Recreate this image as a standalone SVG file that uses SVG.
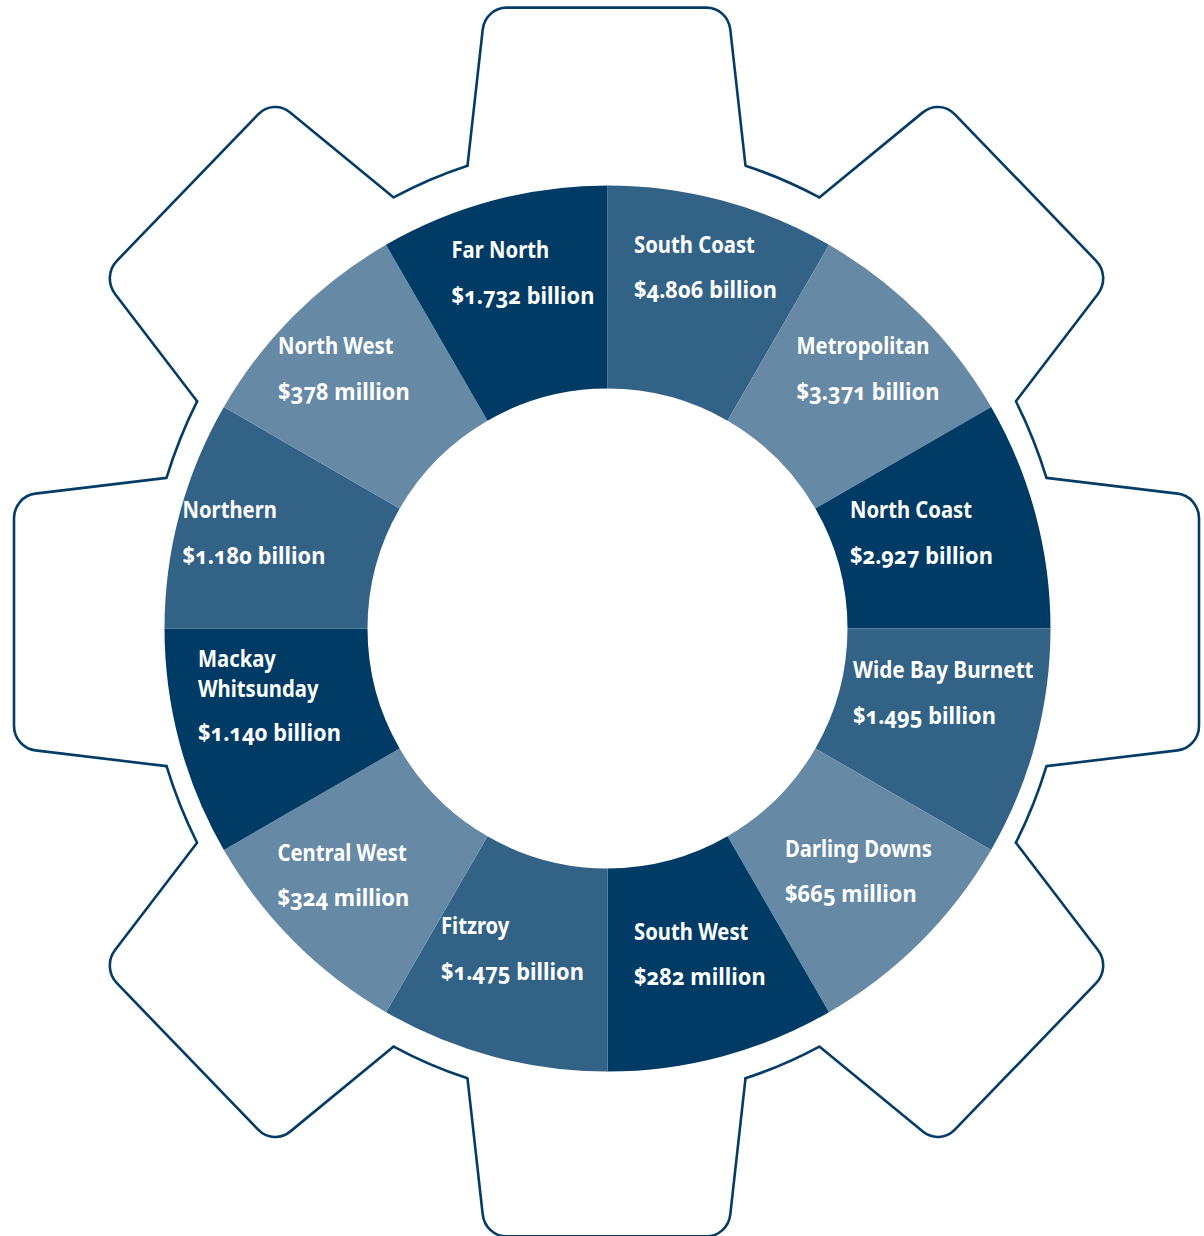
<svg xmlns="http://www.w3.org/2000/svg" xmlns:xlink="http://www.w3.org/1999/xlink" width="1204" height="1236" viewBox="0 0 1204 1236">
<style>
.dk{fill:#003b66}
.md{fill:#336287}
.lt{fill:#668aa6}
.gear{fill:none;stroke:#053c66;stroke-width:2.6;stroke-linejoin:round;stroke-linecap:round}
.t{fill:#ffffff;font-family:"Noto Sans","Open Sans","DejaVu Sans",sans-serif;font-weight:bold;font-size:23px;font-variant-numeric:oldstyle-nums;font-feature-settings:"onum" 1}
</style>
<defs>
<path id="tooth" class="gear" vector-effect="non-scaling-stroke" d="M440,-139 L571.2,-123.8 A24,24 0 0 1 592.5,-99.9 L592.5,99.9 A24,24 0 0 1 571.2,123.8 L440,139 A461.4,461.4 0 0 1 409.4,212.8"/>
</defs>
<rect width="1204" height="1236" fill="#ffffff"/>
<g id="gear" transform="translate(606.5 622) scale(1 1.037)">
<use href="#tooth" xlink:href="#tooth" transform="rotate(0)"/>
<use href="#tooth" xlink:href="#tooth" transform="rotate(45)"/>
<use href="#tooth" xlink:href="#tooth" transform="rotate(90)"/>
<use href="#tooth" xlink:href="#tooth" transform="rotate(135)"/>
<use href="#tooth" xlink:href="#tooth" transform="rotate(180)"/>
<use href="#tooth" xlink:href="#tooth" transform="rotate(225)"/>
<use href="#tooth" xlink:href="#tooth" transform="rotate(270)"/>
<use href="#tooth" xlink:href="#tooth" transform="rotate(315)"/>
</g>
<g id="south-coast"><path class="md" d="M607.5,185.5 A443,443 0 0 1 829,244.85 L727.5,420.65 A240,240 0 0 0 607.5,388.5 Z"/>
<text class="t" transform="translate(634 252.5) scale(.88 1)">South Coast</text><text class="t" transform="translate(634 298) scale(.95 1)">$4.806 billion</text></g>
<g id="metropolitan"><path class="lt" d="M829,244.85 A443,443 0 0 1 991.15,407 L815.35,508.5 A240,240 0 0 0 727.5,420.65 Z"/>
<text class="t" transform="translate(796.5 354) scale(.88 1)">Metropolitan</text><text class="t" transform="translate(796.5 399.5) scale(.95 1)">$3.371 billion</text></g>
<g id="north-coast"><path class="dk" d="M991.15,407 A443,443 0 0 1 1050.5,628.5 L847.5,628.5 A240,240 0 0 0 815.35,508.5 Z"/>
<text class="t" transform="translate(850 518) scale(.88 1)">North Coast</text><text class="t" transform="translate(850 563.5) scale(.95 1)">$2.927 billion</text></g>
<g id="wide-bay-burnett"><path class="md" d="M1050.5,628.5 A443,443 0 0 1 991.15,850 L815.35,748.5 A240,240 0 0 0 847.5,628.5 Z"/>
<text class="t" transform="translate(853 678) scale(.9 1)">Wide Bay Burnett</text><text class="t" transform="translate(853 723.5) scale(.95 1)">$1.495 billion</text></g>
<g id="darling-downs"><path class="lt" d="M991.15,850 A443,443 0 0 1 829,1012.15 L727.5,836.35 A240,240 0 0 0 815.35,748.5 Z"/>
<text class="t" transform="translate(785 857) scale(.88 1)">Darling Downs</text><text class="t" transform="translate(785 901.5) scale(.95 1)">$665 million</text></g>
<g id="south-west"><path class="dk" d="M829,1012.15 A443,443 0 0 1 607.5,1071.5 L607.5,868.5 A240,240 0 0 0 727.5,836.35 Z"/>
<text class="t" transform="translate(634 939.5) scale(.88 1)">South West</text><text class="t" transform="translate(634 984.5) scale(.95 1)">$282 million</text></g>
<g id="fitzroy"><path class="md" d="M607.5,1071.5 A443,443 0 0 1 386,1012.15 L487.5,836.35 A240,240 0 0 0 607.5,868.5 Z"/>
<text class="t" transform="translate(441 934) scale(.88 1)">Fitzroy</text><text class="t" transform="translate(441 979.5) scale(.95 1)">$1.475 billion</text></g>
<g id="central-west"><path class="lt" d="M386,1012.15 A443,443 0 0 1 223.85,850 L399.65,748.5 A240,240 0 0 0 487.5,836.35 Z"/>
<text class="t" transform="translate(277.5 861) scale(.88 1)">Central West</text><text class="t" transform="translate(277.5 906) scale(.95 1)">$324 million</text></g>
<g id="mackay-whitsunday"><path class="dk" d="M223.85,850 A443,443 0 0 1 164.5,628.5 L367.5,628.5 A240,240 0 0 0 399.65,748.5 Z"/>
<text class="t" transform="translate(198 667) scale(.88 1)">Mackay</text><text class="t" transform="translate(198 697) scale(.88 1)">Whitsunday</text><text class="t" transform="translate(198 741) scale(.95 1)">$1.140 billion</text></g>
<g id="northern"><path class="md" d="M164.5,628.5 A443,443 0 0 1 223.85,407 L399.65,508.5 A240,240 0 0 0 367.5,628.5 Z"/>
<text class="t" transform="translate(182.5 518) scale(.88 1)">Northern</text><text class="t" transform="translate(182.5 563.5) scale(.95 1)">$1.180 billion</text></g>
<g id="north-west"><path class="lt" d="M223.85,407 A443,443 0 0 1 386,244.85 L487.5,420.65 A240,240 0 0 0 399.65,508.5 Z"/>
<text class="t" transform="translate(278 353.5) scale(.88 1)">North West</text><text class="t" transform="translate(278 400) scale(.95 1)">$378 million</text></g>
<g id="far-north"><path class="dk" d="M386,244.85 A443,443 0 0 1 607.5,185.5 L607.5,388.5 A240,240 0 0 0 487.5,420.65 Z"/>
<text class="t" transform="translate(451.5 258) scale(.88 1)">Far North</text><text class="t" transform="translate(451.5 303.5) scale(.95 1)">$1.732 billion</text></g>
</svg>
